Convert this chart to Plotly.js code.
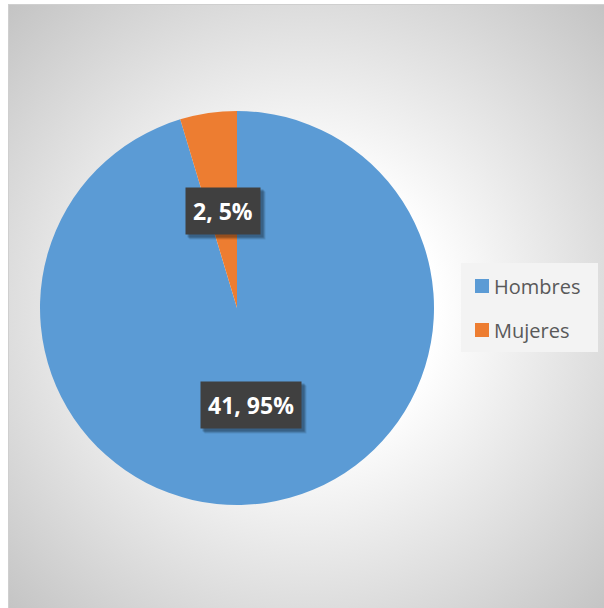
<!DOCTYPE html>
<html>
<head>
<meta charset="utf-8">
<script src="https://cdn.plot.ly/plotly-3.0.1.min.js"></script>
<style>
  html, body { margin: 0; padding: 0; background: #ffffff; }
  #bg {
    position: absolute; left: 8px; top: 4px; width: 604px; height: 612px;
    border: 1px solid #cfcfcf;
    background: radial-gradient(circle farthest-corner at 298px 304px, #ffffff 0%, #ffffff 30%, #c2c2c2 100%);
  }
  #chart { position: absolute; left: 0; top: 0; width: 604px; height: 608px; }
</style>
</head>
<body>
<div id="bg"></div>
<div id="chart"></div>
<script>
const categories = ["Hombres", "Mujeres"];
const values = [41, 2];
const colors = ["#5B9BD5", "#ED7D31"];

const W = 604, H = 608;
const px = x => x / W;
const py = y => 1 - y / H;

// pie geometry (pixels)
const cx = 237, cy = 308, R = 197;

const total = values.reduce((a, b) => a + b, 0);
const annotations = [];
const shapes = [];
const labelIdx = [];

let cum = 0;
values.forEach((v, i) => {
  const mid = 2 * Math.PI * (cum + v / 2) / total;
  cum += v;
  const lx = cx + 0.5 * R * Math.sin(mid);
  const ly = cy - 0.5 * R * Math.cos(mid);
  const txt = v + ", " + Math.round(100 * v / total) + "%";
  labelIdx.push(annotations.length);
  annotations.push({
    x: px(lx), y: py(ly), xref: "paper", yref: "paper", showarrow: false,
    xanchor: "center", yanchor: "middle",
    text: "<b>" + txt + "</b>",
    font: { family: "Open Sans", size: 23, color: "#ffffff" },
    bgcolor: "#404040", borderpad: 7
  });
});

// legend box
shapes.push({
  type: "rect", xref: "paper", yref: "paper",
  x0: px(461), x1: px(598), y0: py(352), y1: py(263),
  fillcolor: "#f3f3f3", line: { width: 0 }, layer: "below"
});
categories.forEach((c, i) => {
  const yc = 286 + i * 44;
  shapes.push({
    type: "rect", xref: "paper", yref: "paper",
    x0: px(475), x1: px(489), y0: py(yc + 7), y1: py(yc - 7),
    fillcolor: colors[i], line: { width: 0 }
  });
  annotations.push({
    x: px(492), y: py(yc), xref: "paper", yref: "paper", showarrow: false,
    xanchor: "left", yanchor: "middle", text: c,
    font: { family: "Open Sans", size: 20, color: "#595959" }
  });
});

const data = [{
  type: "pie",
  labels: categories,
  values: values,
  marker: { colors: colors, line: { width: 0 } },
  sort: false,
  direction: "clockwise",
  rotation: 0,
  textinfo: "none",
  hoverinfo: "label+value+percent",
  domain: { x: [px(cx - R), px(cx + R)], y: [py(cy + R), py(cy - R)] },
  showlegend: false
}];

const layout = {
  width: W, height: H,
  margin: { l: 0, r: 0, t: 0, b: 0 },
  paper_bgcolor: "rgba(0,0,0,0)",
  plot_bgcolor: "rgba(0,0,0,0)",
  showlegend: false,
  annotations: annotations,
  shapes: shapes
};

Plotly.newPlot("chart", data, layout, { displayModeBar: false, staticPlot: true }).then(gd => {
  // soft drop shadows behind the data-label boxes
  const root = gd.getBoundingClientRect();
  const extra = [];
  labelIdx.forEach(i => {
    const bg = gd.querySelector('.annotation[data-index="' + i + '"] .bg');
    if (!bg) return;
    const b = bg.getBoundingClientRect();
    const x0 = b.left - root.left, x1 = b.right - root.left;
    const y0 = b.top - root.top, y1 = b.bottom - root.top;
    [[5, 0.10], [4, 0.14], [3, 0.18]].forEach(([o, a]) => {
      extra.push({
        type: "rect", xref: "paper", yref: "paper", layer: "above",
        x0: px(x0 + o - 1), x1: px(x1 + o), y0: py(y1 + o), y1: py(y0 + o - 1),
        fillcolor: "rgba(0,0,0," + a + ")", line: { width: 0 }
      });
    });
  });
  return Plotly.relayout(gd, { shapes: shapes.concat(extra) });
});
</script>
</body>
</html>
